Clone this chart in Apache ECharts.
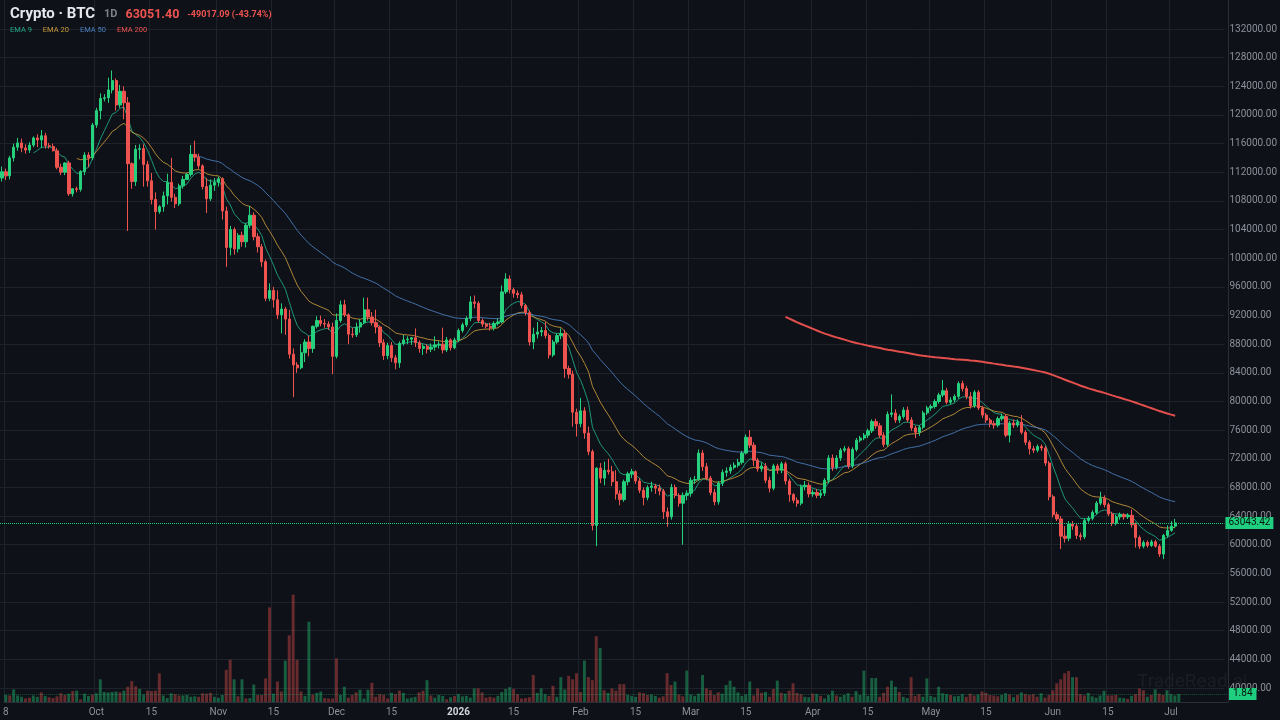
<!DOCTYPE html>
<html>
<head>
<meta charset="utf-8">
<script src="https://cdn.jsdelivr.net/npm/echarts@6/dist/echarts.min.js"></script>
<style>
  html, body { margin: 0; padding: 0; background: #0e1117; }
  #chart { width: 1280px; height: 720px; }
</style>
</head>
<body>
<div id="chart"></div>
<script>
// header text
const SYMBOL = 'Crypto · BTC';
const INTERVAL = '1D';
const LAST_PRICE = '63051.40';
const CHANGE_TEXT = '-49017.09 (-43.74%)';
const PRICE_TAG = 63043.42;
const VOLUME_TAG = 1.84;

// daily bars from Sep 8 2025, axis runs a few empty days past the last bar
const START_DATE = '2025-09-08';
const AXIS_DAYS = 311;

// [open, close, low, high]
const candles = [
  [111200,112068,110700,112800],[112068,111500,110900,112500],[111500,114000,111000,114300],[114000,115500,113500,116000],
  [115500,116100,115000,116800],[116100,115400,114800,116700],[115400,115100,114600,115900],[115100,115800,114700,116200],
  [115800,116800,115500,117000],[116800,116500,115500,117300],[116500,117100,115400,117900],[117100,115700,115300,117500],
  [115700,115600,115300,116100],[115600,115000,114900,116000],[115000,112700,112400,115400],[112700,112000,111600,113200],
  [112000,113300,111600,113400],[113300,109000,108700,113600],[109000,109700,108600,109800],[109700,109600,109200,110000],
  [109600,112100,109300,112300],[112100,114400,111600,114800],[114400,114000,112700,114800],[114000,118600,113700,118900],
  [118600,120600,118200,121000],[120600,122300,119400,123000],[122300,122400,121900,122900],[122400,123500,121700,125200],
  [123500,124800,123000,126200],[124800,121400,120600,125100],[121400,123300,121000,124200],[123300,121700,119400,124000],
  [121700,113200,103800,122500],[113200,110700,109700,113400],[110700,115200,110100,115800],[115200,115300,113800,115900],
  [115300,113100,110000,115900],[113100,110800,110000,113600],[110800,108200,107500,111900],[108200,106500,104000,109200],
  [106500,107200,106200,107400],[107200,108700,106500,109300],[108700,110600,107500,111800],[110600,108500,107900,114000],
  [108500,107600,107000,109000],[107600,110100,107300,110400],[110100,111000,109700,111500],[111000,111700,110900,111900],
  [111700,114500,111400,115800],[114500,114100,113500,116400],[114100,112900,112500,114600],[112900,110000,109600,113100],
  [110000,108300,106300,111200],[108300,110200,108000,111000],[110200,110600,109400,111200],[110600,111100,110000,111400],
  [111100,106600,105400,111300],[106600,101500,98800,107200],[101500,104000,100400,104500],[104000,101300,100500,104300],
  [101300,103200,100800,103500],[103200,102300,101600,103700],[102300,104600,101500,104900],[104600,106000,104200,107300],
  [106000,103000,102500,106400],[103000,101600,100800,103500],[101600,99500,98800,102000],[99500,94400,94000,99800],
  [94400,95500,94000,96500],[95500,94200,93100,96000],[94200,92100,91500,95500],[92100,92900,89500,93700],
  [92900,91500,89300,93200],[91500,86600,86000,92800],[86600,85100,80600,87400],[85100,84700,84000,85500],
  [84700,86800,84500,88000],[86800,88300,85500,88700],[88300,87400,86300,89200],[87400,90500,86800,90600],
  [90500,91300,90200,91900],[91300,90900,90500,92000],[90900,90800,90300,91500],[90800,90400,90000,91200],
  [90400,86300,83800,91000],[86300,91300,86000,92300],[91300,93500,91000,94100],[93500,92100,91800,94200],
  [92100,89400,88000,92300],[89400,89300,88900,90300],[89300,90400,89000,91000],[90400,91000,89600,91500],
  [91000,92800,90800,94500],[92800,91800,91300,94500],[91800,91000,90600,92500],[91000,90400,89500,92800],
  [90400,88200,87600,90600],[88200,86400,85800,88700],[86400,87800,85900,88200],[87800,86100,85500,88300],
  [86100,85400,84500,86500],[85400,88100,84700,88400],[88100,88600,87800,89300],[88600,88700,88000,89100],
  [88700,88900,87900,89000],[88900,88200,87600,90200],[88200,87400,86800,88500],[87400,87700,86500,88000],
  [87700,87300,86700,88000],[87300,87600,86900,88100],[87600,87900,87100,89100],[87900,88000,87400,88400],
  [88000,87200,86700,90300],[87200,88600,86900,89000],[88600,87500,87100,88800],[87500,88600,87300,88900],
  [88600,89900,88300,90200],[89900,90700,89600,91000],[90700,91600,90400,91900],[91600,93900,91200,94700],
  [93900,93700,93000,94800],[93700,91300,91000,94000],[91300,90800,90400,91600],[90800,90500,90200,91000],
  [90500,90300,89900,91000],[90300,90900,89900,91200],[90900,91100,90600,91600],[91100,95300,90900,96200],
  [95300,97100,95000,97900],[97100,95600,95100,97600],[95600,95100,94500,95900],[95100,94900,94400,95500],
  [94900,93400,93000,95300],[93400,92400,92000,93600],[92400,88300,87800,92700],[88300,89400,87300,90300],
  [89400,89700,88800,91100],[89700,89900,89100,90400],[89900,89200,88800,91100],[89200,86500,86000,89500],
  [86500,88300,86200,88600],[88300,89200,88000,89500],[89200,89500,88700,90200],[89500,84600,83300,90000],
  [84600,83800,83200,85000],[83800,78500,76500,84300],[78500,76900,75100,79000],[76900,78700,76400,80500],
  [78700,75600,74800,79200],[75600,73000,72500,76500],[73000,62700,62000,73300],[62700,70700,59800,70800],
  [70700,69300,68600,71400],[69300,70400,68300,71600],[70400,70200,69800,72000],[70200,68800,68200,71000],
  [68800,67100,66300,70400],[67100,66300,65500,67600],[66300,68800,66000,69100],[68800,69900,68300,70200],
  [69900,70200,69300,70600],[70200,68900,68500,70400],[68900,67600,67200,69300],[67600,66600,65500,68000],
  [66600,68000,66200,68300],[68000,68200,67400,68800],[68200,67900,67100,68500],[67900,67500,66900,68400],
  [67500,64600,63600,67800],[64600,63900,62500,65200],[63900,68000,63500,68500],[68000,66900,66500,68400],
  [66900,65800,65300,67200],[65800,66900,60000,67300],[66900,67200,66200,67600],[67200,69000,66700,69400],
  [69000,69100,68500,69600],[69100,72800,68900,73300],[72800,70900,70300,73200],[70900,69300,69000,71400],
  [69300,67300,66900,69600],[67300,66000,65500,67800],[66000,68600,65600,68900],[68600,70100,68200,70500],
  [70100,70300,69500,70800],[70300,70800,69900,71200],[70800,71100,70500,71500],[71100,71500,70800,72000],
  [71500,72800,71200,73100],[72800,75000,72600,75400],[75000,73900,73500,76000],[73900,71800,71000,74300],
  [71800,70600,70200,72100],[70600,71000,70200,71500],[71000,69000,68600,71400],[69000,67900,67300,69500],
  [67900,71000,67600,71300],[71000,70400,69900,71300],[70400,71300,70000,71600],[71300,68900,68400,71600],
  [68900,67000,66000,69200],[67000,66200,65800,67200],[66200,65800,65300,66600],[65800,68100,65500,68400],
  [68100,68300,67600,68900],[68300,67100,66600,68700],[67100,67300,66700,67700],[67300,66900,66500,67800],
  [66900,67200,66500,67600],[67200,69000,66800,69300],[69000,72100,68600,72500],[72100,70800,70300,72600],
  [70800,72100,70500,72500],[72100,73200,71700,73500],[73200,73400,72900,73800],[73400,71000,70600,73700],
  [71000,73300,70700,73600],[73300,74600,73000,74900],[74600,74900,74300,75200],[74900,75300,74600,75600],
  [75300,75900,74900,76200],[75900,77200,75600,77500],[77200,76600,76200,77600],[76600,75300,74900,77000],
  [75300,74000,73600,75700],[74000,78200,73700,78600],[78200,78400,77800,81000],[78400,77400,77000,78900],
  [77400,77900,77000,78200],[77900,78800,77600,79200],[78800,77400,77100,79300],[77400,76300,75900,77800],
  [76300,75700,74900,76600],[75700,76400,75200,76700],[76400,78400,76100,78700],[78400,79100,78100,79400],
  [79100,79300,78700,79600],[79300,80000,79000,80300],[80000,80900,79700,81200],[80900,81500,80600,83000],
  [81500,79900,79600,81900],[79900,80200,79600,80600],[80200,80700,79900,81000],[80700,82500,80400,82800],
  [82500,81800,81400,82900],[81800,80700,80300,82200],[80700,79400,79000,81300],[79400,81300,79100,81600],
  [81300,79100,78800,81600],[79100,78100,77700,79400],[78100,77400,77000,78400],[77400,76900,76400,77700],
  [76900,76700,76200,77300],[76700,77600,76400,77900],[77600,77900,77300,78300],[77900,75300,75000,78200],
  [75300,77000,74300,77300],[77000,76700,76300,77500],[76700,77100,76400,77500],[77100,75700,75400,78100],
  [75700,74300,73900,76000],[74300,73400,72600,74600],[73400,73200,72800,73800],[73200,73700,72900,74000],
  [73700,73500,73100,74000],[73500,71400,71000,73800],[71400,66700,66200,71700],[66700,64200,63800,67000],
  [64200,63600,63300,64600],[63600,61200,59400,64000],[61200,60900,60300,62600],[60900,62900,60500,63300],
  [62900,62600,62100,63300],[62600,61300,60800,63000],[61300,61100,60600,61700],[61100,63400,60800,63700],
  [63400,63700,63100,64000],[63700,64500,63400,64800],[64500,65800,64200,66100],[65800,66500,65500,67400],
  [66500,65600,65200,66900],[65600,64300,64000,65900],[64300,63000,62600,64600],[63000,63900,62700,64200],
  [63900,64200,63500,64500],[64200,63900,63500,64400],[63900,64100,63600,64400],[64100,62800,62400,64900],
  [62800,61000,59600,63100],[61000,59800,59400,61300],[59800,60300,59500,60600],[60300,59900,59600,60600],
  [59900,60400,59700,60700],[60400,59800,59600,60700],[59800,58700,58300,60100],[58700,61300,58000,61500],
  [61300,62000,61000,62700],[62000,62600,61800,63300],[62600,63051.4,62300,63600]
];

const volumes = [
  1.6,1.5,2.9,1.5,1.2,0.8,1.0,1.5,1.2,2.2,
  1.4,1.1,0.9,1.3,2.0,1.6,1.9,2.5,2.6,0.6,
  1.9,1.4,1.7,2.0,5.2,2.3,2.2,2.3,2.4,2.2,
  2.6,3.5,4.8,3.6,3.0,1.7,2.6,2.5,2.6,6.6,
  1.5,0.9,2.0,1.8,1.5,1.5,1.6,1.2,1.3,1.2,
  2.0,1.9,2.1,1.2,1.0,1.6,7.4,9.7,5.2,1.3,
  5.2,0.8,0.9,4.0,1.6,1.6,5.4,21.7,1.9,4.7,
  2.4,9.5,15.3,24.6,9.7,2.4,1.4,18.4,1.7,2.1,
  2.4,0.9,0.8,0.8,10.0,1.6,3.5,1.0,1.6,2.2,
  2.8,0.8,2.8,4.4,1.2,1.8,1.6,0.8,2.1,1.8,
  2.6,2.1,0.8,1.0,1.2,2.2,2.6,5.0,1.5,1.0,
  1.6,1.4,0.6,1.1,1.4,1.8,1.3,1.4,1.0,3.1,
  3.1,2.2,1.0,1.2,1.0,1.4,2.3,3.0,3.4,3.0,
  1.8,0.8,0.9,1.1,6.2,2.1,3.1,1.8,1.4,3.7,
  1.2,5.7,2.9,6.0,5.2,6.6,2.3,9.5,5.7,5.0,
  15.1,12.4,2.7,2.1,3.1,2.6,4.1,4.1,1.6,1.4,
  1.2,2.2,2.0,1.6,1.7,1.4,1.0,1.3,6.6,3.9,
  4.7,1.7,1.3,7.2,1.7,1.4,1.9,6.2,3.1,2.7,
  1.6,2.2,1.9,3.9,4.9,3.5,2.2,1.4,1.7,4.7,
  1.5,3.1,2.1,2.3,1.2,3.0,4.9,2.1,1.9,2.6,
  4.3,2.1,1.8,1.2,1.1,1.9,1.8,1.4,0.8,1.6,
  2.6,1.5,1.2,1.6,2.0,1.2,2.5,1.6,7.2,1.4,
  5.5,5.5,1.2,2.1,3.5,4.9,3.5,2.3,1.2,0.9,
  5.7,1.4,1.8,1.2,5.4,1.4,1.1,3.5,2.0,1.8,
  1.6,1.3,1.4,1.8,1.2,1.9,1.5,1.7,2.4,2.1,
  1.6,1.5,1.3,1.6,2.0,1.7,1.1,1.6,2.2,1.8,
  1.6,1.8,1.2,2.0,1.0,1.6,2.7,4.3,5.2,6.6,
  7.1,5.7,5.7,1.8,1.5,2.1,1.3,1.0,1.5,2.6,
  1.5,1.5,1.6,1.0,0.9,0.7,1.4,1.8,3.1,2.7,
  1.2,1.6,2.9,1.9,1.6,2.7,1.8,1.5,1.84
];

const emaPeriods = [9, 20, 50, 200];
const emaColors = ['#22ab8a', '#c99a3c', '#4a80c0', '#ef5350'];
const UP = '#26d07c';
const DOWN = '#ef5350';
const MONTHS = ['Jan','Feb','Mar','Apr','May','Jun','Jul','Aug','Sep','Oct','Nov','Dec'];

// category dates
const dates = [];
{
  const d = new Date(START_DATE + 'T00:00:00Z');
  for (let i = 0; i < AXIS_DAYS; i++) {
    dates.push(d.toISOString().slice(0, 10));
    d.setUTCDate(d.getUTCDate() + 1);
  }
}

// EMA seeded with the SMA of the first n closes
function ema(values, n) {
  const out = [];
  const k = 2 / (n + 1);
  let prev = null;
  for (let i = 0; i < values.length; i++) {
    if (i < n - 1) { out.push('-'); continue; }
    if (i === n - 1) {
      let s = 0;
      for (let j = 0; j < n; j++) s += values[j];
      prev = s / n;
    } else {
      prev = values[i] * k + prev * (1 - k);
    }
    out.push(+prev.toFixed(2));
  }
  return out;
}

const closes = candles.map(c => c[1]);

// first bar, then 1st / 15th of each month inside the data (Sep 15 sits too close to the first label)
const showTick = (idx, val) => {
  const day = +val.slice(8, 10);
  if (idx === 0) return true;
  return (day === 1 || day === 15) && idx > 10 && idx < candles.length;
};

const fmtDate = (val, idx) => {
  const day = +val.slice(8, 10);
  const m = +val.slice(5, 7) - 1;
  if (day === 1) return m === 0 ? '{y|' + val.slice(0, 4) + '}' : MONTHS[m];
  return String(day);
};

const chart = echarts.init(document.getElementById('chart'), null, { renderer: 'canvas' });

const emaSeries = emaPeriods.map((p, i) => ({
  name: 'EMA ' + p,
  type: 'line',
  xAxisIndex: 0, yAxisIndex: 0,
  data: ema(closes, p),
  showSymbol: false,
  symbol: 'none',
  silent: true,
  lineStyle: { color: emaColors[i], width: p === 200 ? 2 : 1, opacity: p === 200 ? 0.95 : 0.85 },
  itemStyle: { color: emaColors[i] },
  z: 3
}));

chart.setOption({
  backgroundColor: '#0e1117',
  animation: false,
  title: {
    left: 10, top: 7, padding: 0,
    text: '{a|' + SYMBOL + '}{b|' + INTERVAL + '}{c|' + LAST_PRICE + '}{d|' + CHANGE_TEXT + '}',
    textStyle: {
      rich: {
        a: { color: '#e6e8ee', fontSize: 15, fontWeight: 'bold', fontFamily: 'Roboto' },
        b: { color: '#7d828c', fontSize: 11, fontFamily: 'Roboto', padding: [0, 0, 0, 9] },
        c: { color: '#ef5350', fontSize: 12.5, fontWeight: 'bold', fontFamily: 'Roboto', padding: [0, 0, 0, 8] },
        d: { color: '#ef5350', fontSize: 9, fontFamily: 'Roboto', padding: [1, 0, 0, 8] }
      }
    }
  },
  legend: {
    left: 5, top: 26, padding: 0,
    icon: 'none', itemWidth: 0, itemHeight: 0, itemGap: 6,
    selectedMode: false,
    textStyle: { fontSize: 7.5, fontFamily: 'Roboto', padding: 0 },
    data: emaPeriods.map((p, i) => ({ name: 'EMA ' + p, textStyle: { color: emaColors[i] } }))
  },
  graphic: [{
    type: 'text', left: 1137, top: 673, z: 0, silent: true,
    style: { text: 'TradeRead.ai', fill: 'rgba(140,146,158,0.10)', fontSize: 19, fontFamily: 'Roboto' }
  }],
  grid: [
    { left: 0, right: 52, top: 29, bottom: 32 },
    { left: 0, right: 52, top: 0, bottom: 18 }
  ],
  xAxis: [
    { type: 'category', gridIndex: 0, data: dates, boundaryGap: true, show: false },
    {
      type: 'category', gridIndex: 1, data: dates, boundaryGap: true,
      axisLine: { show: true, lineStyle: { color: '#2a2e39' } },
      axisTick: { show: false, interval: showTick },
      axisLabel: {
        interval: showTick, formatter: fmtDate, color: '#8b909a', fontSize: 10,
        fontFamily: 'Roboto', margin: 5,
        rich: { y: { color: '#d1d4dc', fontWeight: 'bold', fontSize: 10 } }
      },
      splitLine: { show: true, interval: showTick, lineStyle: { color: '#1e222b', width: 1 } }
    }
  ],
  yAxis: [
    {
      type: 'value', gridIndex: 0, position: 'right', min: 40000, max: 132000, interval: 4000,
      axisLine: { show: false }, axisTick: { show: false },
      axisLabel: { color: '#8b909a', fontSize: 10, fontFamily: 'Roboto', margin: 5, formatter: v => v.toFixed(2) },
      splitLine: { show: true, lineStyle: { color: '#1e222b', width: 1 } }
    },
    {
      type: 'value', gridIndex: 1, position: 'right', min: 0, max: 161,
      axisLine: { show: true, lineStyle: { color: '#2a2e39' } },
      axisTick: { show: false }, axisLabel: { show: false }, splitLine: { show: false }
    }
  ],
  series: [
    {
      name: 'Volume',
      type: 'bar',
      xAxisIndex: 1, yAxisIndex: 1,
      barWidth: '75%',
      silent: true,
      data: volumes.map((v, i) => ({
        value: v,
        itemStyle: { color: candles[i][1] >= candles[i][0] ? 'rgba(38,208,124,0.40)' : 'rgba(239,83,80,0.40)' }
      })),
      markLine: {
        symbol: 'none', silent: true,
        data: [{ yAxis: VOLUME_TAG }],
        lineStyle: { color: 'rgba(38,208,124,0.35)', type: 'dotted', width: 1 },
        label: {
          position: 'end', distance: 1, formatter: () => VOLUME_TAG.toFixed(2),
          backgroundColor: '#1fcf7f', color: '#06120c', fontSize: 10, fontFamily: 'Roboto', padding: [1, 4]
        }
      },
      z: 1
    },
    {
      name: 'BTC',
      type: 'candlestick',
      xAxisIndex: 0, yAxisIndex: 0,
      data: candles,
      barWidth: '70%',
      itemStyle: { color: UP, color0: DOWN, borderColor: UP, borderColor0: DOWN, borderWidth: 1 },
      markLine: {
        symbol: 'none', silent: true,
        data: [{ yAxis: PRICE_TAG }],
        lineStyle: { color: '#1fcf7f', type: 'dotted', width: 1, opacity: 1 },
        label: {
          position: 'end', distance: 1, formatter: () => PRICE_TAG.toFixed(2),
          backgroundColor: '#1fcf7f', color: '#06120c', fontSize: 10, fontFamily: 'Roboto', padding: [1, 3]
        }
      },
      z: 4
    },
    ...emaSeries
  ]
});
</script>
</body>
</html>
